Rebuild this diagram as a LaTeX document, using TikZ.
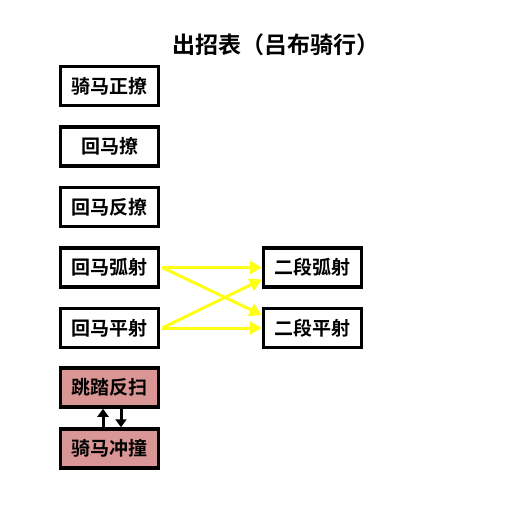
\documentclass[tikz,border=0pt]{standalone}
\usepackage{fontspec}
\setmainfont{Noto Sans CJK SC Bold}
\usetikzlibrary{arrows.meta}

\definecolor{comboline}{RGB}{255, 255, 20}
\definecolor{specialcolor}{RGB}{217, 150, 148}

\tikzset{
    movebox/.style={draw,line width=3.5pt,minimum width=98pt,minimum height=39pt,
        inner sep=0pt,font=\fontsize{19}{21}\selectfont},
    specialbox/.style={movebox,fill=specialcolor},
    combo/.style={comboline,line width=3pt,-{Triangle[length=12pt,width=13pt]}},
    swap/.style={black,line width=3pt,-{Triangle[length=8pt,width=11pt]}}
}

\begin{document}
\begin{tikzpicture}[x=1pt,y=-1pt]

        \useasboundingbox (0,0) rectangle (521,505);

        % title
        \node (title) at (276,45) {\fontsize{23}{26}\selectfont 出招表（吕布骑行）};

        % left column of moves
        \node[movebox] (qmzl) at (109.5,86) {骑马正撩};
        \node[movebox] (hml) at (109.5,146.5) {回马撩};
        \node[movebox] (hmfl) at (109.5,207) {回马反撩};
        \node[movebox] (hmhs) at (109.5,267.5) {回马弧射};
        \node[movebox] (hmps) at (109.5,328) {回马平射};
        \node[specialbox] (ttfs) at (109.5,387.5) {跳踏反扫};
        \node[specialbox] (qmcz) at (109.5,448.5) {骑马冲撞};

        % follow-up moves
        \node[movebox] (edhs) at (312.5,267.5) {二段弧射};
        \node[movebox] (edps) at (312.5,328) {二段平射};

        % combo arrows
        \draw[combo] ([xshift=2pt]hmhs.east) -- (edhs.west);
        \draw[combo] ([xshift=2pt]hmhs.east) -- ([yshift=13pt]edps.west);
        \draw[combo] ([xshift=2pt]hmps.east) -- ([yshift=-12pt]edhs.west);
        \draw[combo] ([xshift=2pt]hmps.east) -- (edps.west);

        % switch between the two special moves
        \draw[swap] ([xshift=-6.5pt]qmcz.north) -- ([xshift=-6.5pt]ttfs.south);
        \draw[swap] ([xshift=11.5pt]ttfs.south) -- ([xshift=11.5pt]qmcz.north);

    \end{tikzpicture}
\end{document}
